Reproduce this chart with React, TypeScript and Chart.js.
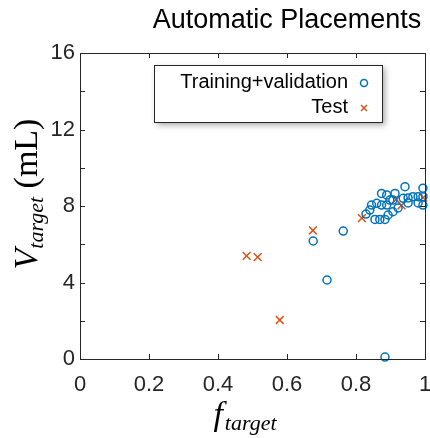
import React, { useEffect, useRef } from "react";
import { Chart, registerables } from "chart.js";

Chart.register(...registerables);

const titleText = "Automatic Placements";
const trainLabel = "Training+validation";
const testLabel = "Test";

const trainX = [0.884, 0.716, 0.676, 0.763, 0.874, 0.889, 0.845, 0.86, 0.874, 0.889, 0.84, 0.855, 0.869, 0.884, 0.893, 0.898, 0.942, 0.913, 0.907, 0.937, 0.951, 0.965, 0.98, 0.994, 0.994, 0.994, 0.98, 0.907, 0.951, 0.829, 0.922];
const trainY = [0.1, 4.13, 6.17, 6.69, 8.66, 8.58, 8.05, 8.14, 8.05, 8.05, 7.79, 7.3, 7.3, 7.3, 7.53, 8.31, 9.01, 8.66, 8.31, 8.4, 8.42, 8.49, 8.49, 8.93, 8.49, 8.05, 8.16, 7.7, 8.16, 7.58, 7.9];

const testX = [0.483, 0.515, 0.579, 0.675, 0.817, 0.916, 0.932, 0.995];
const testY = [5.39, 5.33, 2.04, 6.72, 7.37, 8.34, 8.03, 8.44];

const xTicks = [0, 0.2, 0.4, 0.6, 0.8, 1];
const yTicks = [0, 2, 4, 6, 8, 10, 12, 14, 16];
const yLabelled = [0, 4, 8, 12, 16];

const BLUE = "#0072BD";
const ORANGE = "#D95319";
const AXIS = "#262626";
const SANS = "'Liberation Sans', Arial, sans-serif";
const SERIF = "'Liberation Serif', 'Times New Roman', serif";

const overlay = {
  id: "overlay",
  afterDraw(chart: any) {
    const ctx = chart.ctx as CanvasRenderingContext2D;
    const { left, right, top, bottom } = chart.chartArea;
    const xs = chart.scales.x;
    const ys = chart.scales.y;
    ctx.save();
    ctx.strokeStyle = AXIS;
    ctx.lineWidth = 1;
    ctx.strokeRect(Math.round(left) + 0.5, Math.round(top) + 0.5, Math.round(right - left), Math.round(bottom - top));
    const tl = 5;
    ctx.beginPath();
    for (const v of xTicks) {
      const px = Math.round(xs.getPixelForValue(v)) + 0.5;
      ctx.moveTo(px, bottom);
      ctx.lineTo(px, bottom - tl);
      ctx.moveTo(px, top);
      ctx.lineTo(px, top + tl);
    }
    for (const v of yTicks) {
      const py = Math.round(ys.getPixelForValue(v)) + 0.5;
      ctx.moveTo(left, py);
      ctx.lineTo(left + tl, py);
      ctx.moveTo(right, py);
      ctx.lineTo(right - tl, py);
    }
    ctx.stroke();

    ctx.fillStyle = "#000";
    ctx.font = `27px ${SANS}`;
    ctx.textAlign = "center";
    ctx.textBaseline = "alphabetic";
    ctx.fillText(titleText, 287, 28);

    {
      const mf = `italic 34px ${SERIF}`;
      const sf = `italic 22px ${SERIF}`;
      ctx.font = mf;
      const w1 = ctx.measureText("f").width;
      ctx.font = sf;
      const w2 = ctx.measureText("target").width;
      const total = w1 + w2 + 2;
      const x0 = 245 - total / 2;
      ctx.textAlign = "left";
      ctx.font = mf;
      ctx.fillText("f", x0, 425);
      ctx.font = sf;
      ctx.fillText("target", x0 + w1 + 2, 430);
    }
    {
      ctx.save();
      ctx.translate(37, 194);
      ctx.rotate(-Math.PI / 2);
      const mf = `italic 34px ${SERIF}`;
      const sf = `italic 22px ${SERIF}`;
      const nf = `34px ${SERIF}`;
      ctx.font = mf;
      const w1 = ctx.measureText("V").width;
      ctx.font = sf;
      const w2 = ctx.measureText("target").width;
      ctx.font = nf;
      const w3 = ctx.measureText(" (mL)").width;
      const total = w1 + w2 + w3;
      let x0 = -total / 2;
      ctx.textAlign = "left";
      ctx.font = mf;
      ctx.fillText("V", x0, 0);
      x0 += w1;
      ctx.font = sf;
      ctx.fillText("target", x0, 6);
      x0 += w2;
      ctx.font = nf;
      ctx.fillText(" (mL)", x0, 0);
      ctx.restore();
    }

    const lx = 154, ly = 65, lw = 228, lh = 57;
    ctx.save();
    ctx.shadowColor = "rgba(0,0,0,0.35)";
    ctx.shadowBlur = 6;
    ctx.shadowOffsetX = 3;
    ctx.shadowOffsetY = 3;
    ctx.fillStyle = "#fff";
    ctx.fillRect(lx, ly, lw, lh);
    ctx.restore();
    ctx.strokeStyle = AXIS;
    ctx.lineWidth = 1;
    ctx.strokeRect(lx + 0.5, ly + 0.5, lw, lh);
    ctx.fillStyle = "#000";
    ctx.font = `20px ${SANS}`;
    ctx.textAlign = "right";
    ctx.textBaseline = "middle";
    ctx.fillText(trainLabel, 348, 82);
    ctx.fillText(testLabel, 348, 107);
    ctx.lineWidth = 1.5;
    ctx.strokeStyle = BLUE;
    ctx.beginPath();
    ctx.arc(364, 83, 3.5, 0, Math.PI * 2);
    ctx.stroke();
    ctx.strokeStyle = ORANGE;
    ctx.beginPath();
    ctx.moveTo(361, 105);
    ctx.lineTo(367, 111);
    ctx.moveTo(367, 105);
    ctx.lineTo(361, 111);
    ctx.stroke();
    ctx.restore();
  },
};

export default function App() {
  const ref = useRef<HTMLCanvasElement | null>(null);
  useEffect(() => {
    if (!ref.current) return;
    const chart = new Chart(ref.current, {
      type: "scatter",
      data: {
        datasets: [
          {
            label: trainLabel,
            data: trainX.map((x, i) => ({ x, y: trainY[i] })),
            pointStyle: "circle",
            radius: 4,
            borderWidth: 1.5,
            borderColor: BLUE,
            backgroundColor: "rgba(0,0,0,0)",
            clip: false as any,
          },
          {
            label: testLabel,
            data: testX.map((x, i) => ({ x, y: testY[i] })),
            pointStyle: "crossRot",
            radius: 5.5,
            borderWidth: 1.5,
            borderColor: ORANGE,
            backgroundColor: ORANGE,
            clip: false as any,
          },
        ],
      },
      options: {
        animation: false,
        responsive: false,
        layout: { padding: { left: 0, right: 5, top: 53, bottom: 0 }, autoPadding: false },
        plugins: { legend: { display: false }, tooltip: { enabled: false }, title: { display: false } },
        scales: {
          x: {
            type: "linear",
            min: 0,
            max: 1,
            grid: { display: false },
            border: { display: false },
            afterFit: (s: any) => { s.height = 79; s.paddingLeft = 0; s.paddingRight = 0; },
            afterBuildTicks: (s: any) => { s.ticks = xTicks.map((v) => ({ value: v })); },
            ticks: {
              padding: 5,
              color: AXIS,
              font: { family: SANS, size: 22 },
              callback: (v: any) => String(Math.round(Number(v) * 10) / 10),
            },
          },
          y: {
            type: "linear",
            min: 0,
            max: 16,
            grid: { display: false },
            border: { display: false },
            afterFit: (s: any) => { s.width = 80; s.paddingTop = 0; s.paddingBottom = 0; },
            afterBuildTicks: (s: any) => { s.ticks = yLabelled.map((v) => ({ value: v })); },
            ticks: {
              padding: -3,
              color: AXIS,
              font: { family: SANS, size: 22 },
              callback: (v: any) => String(v),
            },
          },
        },
      },
      plugins: [overlay],
    });
    return () => chart.destroy();
  }, []);
  return (
    <div style={{ position: "fixed", left: 0, top: 0, width: 430, height: 438, background: "#fff" }}>
      <canvas ref={ref} width={430} height={438} style={{ width: 430, height: 438 }} />
    </div>
  );
}
